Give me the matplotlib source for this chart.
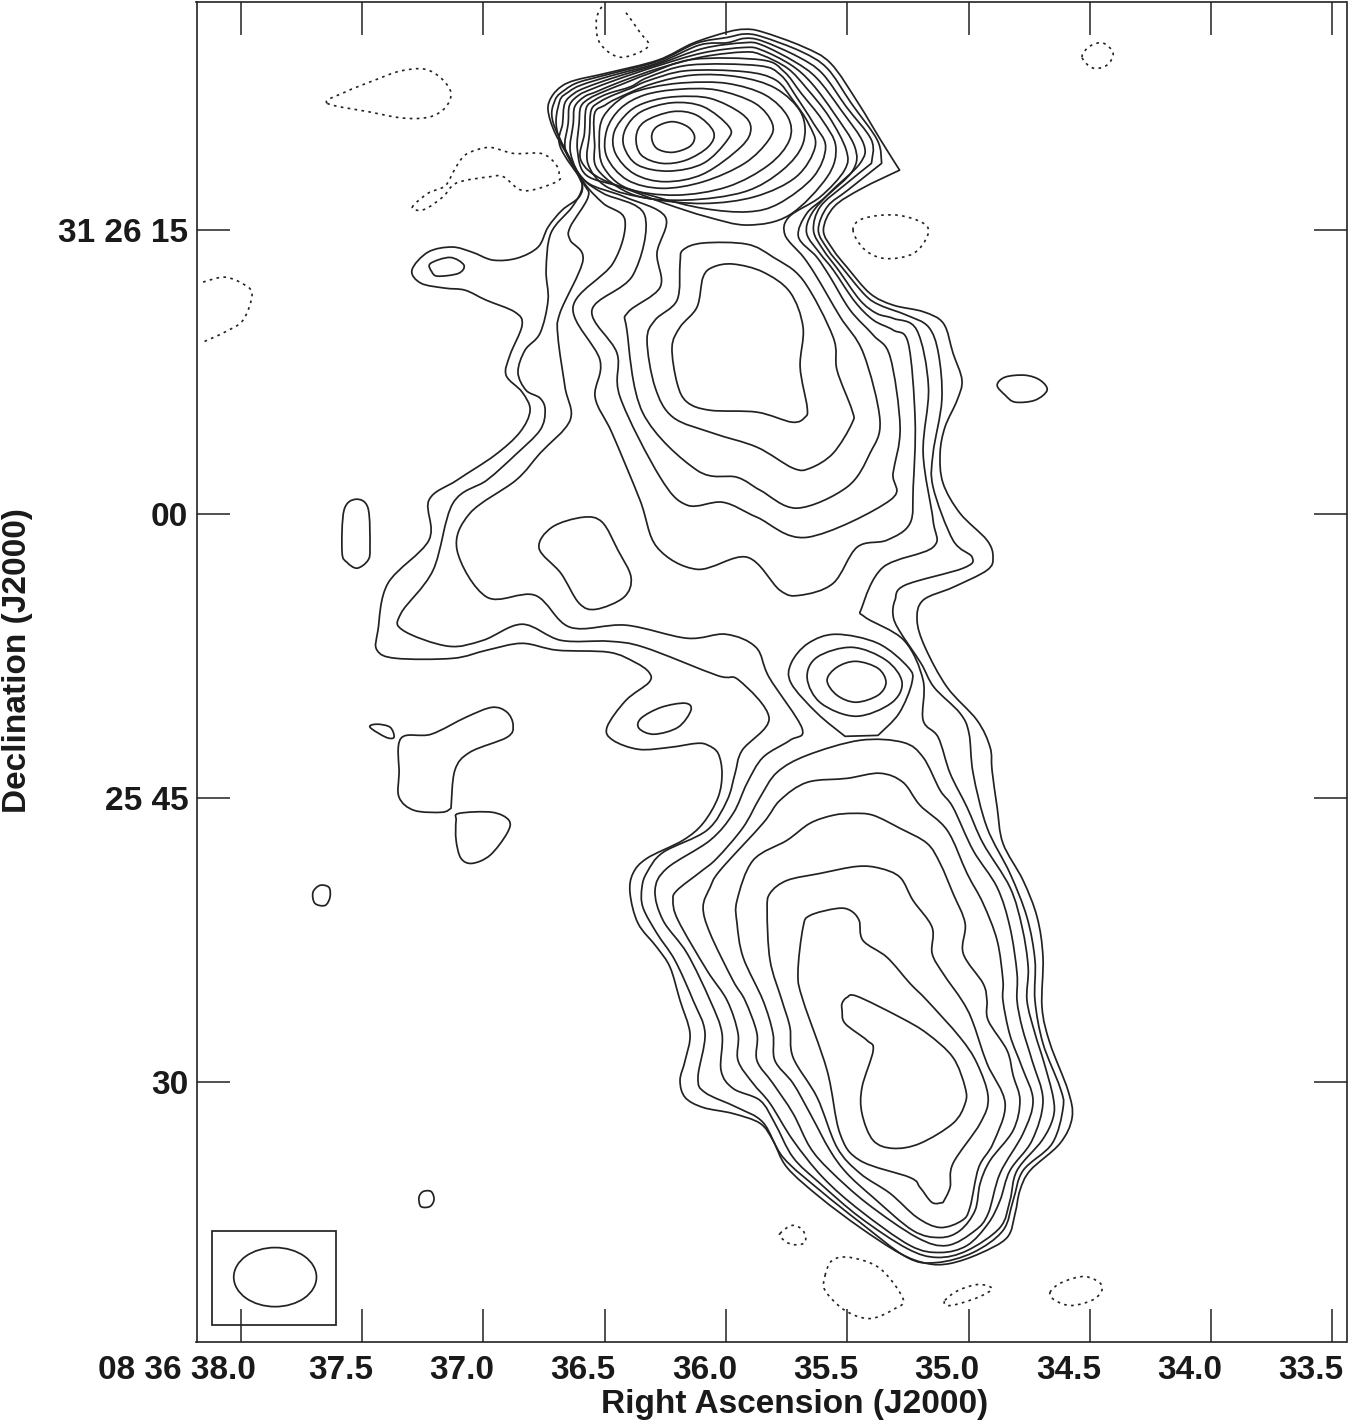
import numpy as np
import matplotlib
matplotlib.use('Agg')
import matplotlib.pyplot as plt
from matplotlib.patches import PathPatch, Ellipse, Rectangle
from matplotlib.path import Path
from matplotlib.transforms import ScaledTranslation

plt.rcParams['font.family'] = ['Liberation Sans', 'DejaVu Sans']

# contours are (RA seconds past 08 36, Dec arcsec from 31 26 00)
# a repeated point makes a sharp corner
lev1 = [(35.923, 25.61), (35.852, 25.48), (35.682, 24.69), (35.568, 23.81), (35.454, 21.70), (35.362, 19.76),
        (35.284, 18.17), (35.284, 18.17), (35.440, 17.20), (35.554, 16.24), (35.598, 15.00), (35.557, 13.95),
        (35.502, 13.06), (35.406, 11.66), (35.310, 11.04), (35.186, 10.69), (35.103, 10.07), (35.064, 8.51),
        (35.027, 7.08), (35.047, 6.02), (35.097, 4.60), (35.117, 3.22), (35.105, 1.64), (35.035, 0.05),
        (34.924, -1.37), (34.899, -2.27), (34.924, -2.96), (35.064, -3.86), (35.187, -4.54), (35.212, -5.60),
        (35.179, -7.03), (35.088, -9.14), (34.965, -10.88), (34.911, -12.31), (34.903, -13.52), (34.882, -15.48),
        (34.858, -17.38), (34.775, -19.34), (34.717, -21.29), (34.693, -23.40), (34.697, -26.05), (34.664, -27.95),
        (34.590, -30.43), (34.573, -31.86), (34.623, -33.23), (34.746, -34.66), (34.788, -35.71), (34.808, -36.93),
        (34.841, -38.20), (34.953, -39.04), (35.076, -39.57), (35.171, -39.57), (35.282, -39.04), (35.447, -37.67),
        (35.612, -36.08), (35.748, -34.50), (35.806, -33.07), (35.859, -32.17), (35.971, -31.65), (36.094, -31.33),
        (36.168, -30.80), (36.189, -29.90), (36.168, -28.85), (36.148, -27.42), (36.189, -25.68), (36.230, -23.93),
        (36.284, -22.88), (36.362, -21.61), (36.395, -20.02), (36.383, -18.97), (36.325, -18.17), (36.177, -17.22),
        (36.094, -16.32), (36.032, -14.95), (36.016, -13.68), (36.032, -12.63), (36.074, -12.20), (36.119, -12.10),
        (36.230, -12.31), (36.358, -12.42), (36.465, -11.94), (36.490, -11.25), (36.412, -9.83), (36.317, -8.88),
        (36.317, -8.35), (36.375, -7.82), (36.482, -7.29), (36.696, -7.18), (36.840, -6.82), (36.985, -7.18),
        (37.125, -7.61), (37.360, -7.61), (37.438, -7.18), (37.434, -6.13), (37.393, -3.65), (37.224, -1.37),
        (37.224, 0.74), (37.108, 1.80), (36.952, 3.12), (36.849, 4.33), (36.807, 5.49), (36.840, 6.45),
        (36.906, 7.34), (36.890, 8.40), (36.840, 9.98), (36.869, 10.67), (36.989, 11.31), (37.075, 11.83),
        (37.158, 11.94), (37.257, 12.20), (37.294, 12.89), (37.228, 13.84), (37.129, 14.11), (37.046, 13.84),
        (36.960, 13.42), (36.861, 13.52), (36.774, 14.11), (36.733, 15.16), (36.675, 16.06), (36.605, 16.75),
        (36.593, 17.49), (36.634, 18.54), (36.704, 20.13), (36.733, 21.34), (36.718, 22.05), (36.676, 22.61),
        (36.618, 22.93), (36.490, 23.30), (36.280, 23.98), (36.135, 24.88), (35.995, 25.46)]

lev2 = [(35.923, 25.36), (35.852, 25.22), (35.689, 24.43), (35.582, 23.54), (35.483, 21.70), (35.376, 19.76),
        (35.358, 18.53), (35.358, 18.53), (35.497, 17.12), (35.582, 16.24), (35.619, 15.00), (35.578, 13.95),
        (35.523, 13.06), (35.426, 11.57), (35.365, 11.04), (35.255, 10.51), (35.165, 9.89), (35.124, 8.49),
        (35.110, 6.02), (35.146, 3.22), (35.146, 1.43), (35.064, -1.37), (34.985, -2.27), (35.022, -2.85),
        (35.262, -3.75), (35.303, -4.54), (35.311, -5.34), (35.286, -6.13), (35.196, -7.87), (35.142, -9.14),
        (35.035, -10.51), (34.998, -11.57), (34.981, -13.68), (34.924, -16.54), (34.829, -18.97), (34.759, -21.29),
        (34.726, -23.56), (34.726, -25.68), (34.693, -27.95), (34.623, -30.27), (34.610, -31.33), (34.655, -33.23),
        (34.775, -34.66), (34.816, -36.24), (34.858, -37.83), (34.981, -38.99), (35.130, -39.52), (35.253, -39.25),
        (35.447, -37.40), (35.612, -35.71), (35.764, -33.97), (35.847, -32.12), (35.954, -31.33), (36.086, -30.54),
        (36.115, -29.74), (36.086, -27.42), (36.135, -25.68), (36.210, -23.56), (36.284, -22.14), (36.342, -20.76),
        (36.346, -19.71), (36.325, -18.91), (36.259, -17.86), (36.078, -16.69), (35.995, -15.11), (35.962, -13.68),
        (35.933, -12.47), (35.822, -10.78), (35.946, -8.77), (36.037, -8.51), (36.337, -7.03), (36.482, -6.71),
        (36.680, -6.66), (36.840, -5.81), (37.001, -6.66), (37.145, -6.97), (37.331, -6.13), (37.339, -5.23),
        (37.207, -2.96), (37.125, 0.58), (36.985, 1.80), (36.869, 3.12), (36.766, 4.44), (36.745, 5.49),
        (36.766, 6.13), (36.824, 6.55), (36.857, 7.50), (36.828, 8.66), (36.766, 9.56), (36.733, 11.31),
        (36.741, 12.89), (36.721, 14.85), (36.634, 16.22), (36.593, 17.22), (36.612, 17.98), (36.711, 20.64),
        (36.704, 21.87), (36.661, 22.43), (36.607, 22.81), (36.491, 23.21), (36.278, 23.93), (36.122, 24.87),
        (35.994, 25.18)]

lev3 = [(35.923, 25.13), (35.852, 25.00), (35.703, 24.16), (35.603, 23.28), (35.504, 21.52), (35.400, 19.76),
        (35.400, 18.53), (35.400, 18.53), (35.511, 17.38), (35.611, 16.24), (35.639, 15.00), (35.598, 13.95),
        (35.536, 12.89), (35.447, 11.30), (35.378, 10.60), (35.310, 10.34), (35.213, 9.72), (35.165, 6.72),
        (35.187, 3.22), (35.146, -0.32), (35.146, -1.74), (35.352, -2.80), (35.439, -4.91), (35.426, -5.44),
        (35.266, -6.66), (35.187, -8.77), (35.187, -10.88), (35.125, -11.78), (35.076, -13.68), (35.006, -15.48),
        (34.940, -17.38), (34.829, -19.71), (34.779, -21.82), (34.754, -23.93), (34.759, -25.68), (34.726, -27.42),
        (34.689, -28.95), (34.651, -30.80), (34.651, -31.86), (34.697, -33.07), (34.800, -34.66), (34.829, -36.24),
        (34.870, -37.67), (35.006, -38.89), (35.130, -39.25), (35.253, -38.78), (35.447, -37.14), (35.612, -35.34),
        (35.723, -33.97), (35.798, -32.17), (35.859, -30.96), (35.970, -30.33), (36.020, -29.37), (36.016, -27.42),
        (36.065, -25.68), (36.160, -23.19), (36.259, -21.45), (36.292, -19.86), (36.243, -18.70), (36.065, -17.22),
        (35.970, -15.80), (35.913, -14.21), (35.847, -12.84), (35.736, -11.94), (35.686, -11.31), (35.822, -8.61),
        (35.876, -7.03), (36.000, -6.34), (36.160, -6.55), (36.412, -5.86), (36.642, -5.97), (36.787, -4.28),
        (36.985, -4.38), (37.108, -1.90), (37.055, 0.05), (36.865, 1.80), (36.766, 3.22), (36.642, 4.97),
        (36.663, 6.71), (36.692, 9.35), (36.684, 10.62), (36.589, 13.42), (36.642, 14.48), (36.642, 15.16),
        (36.568, 16.75), (36.590, 17.56), (36.693, 20.11), (36.686, 21.78), (36.647, 22.31), (36.597, 22.66),
        (36.477, 23.14), (36.278, 23.84), (36.108, 24.78), (35.994, 24.90)]

lev4 = [(35.923, 24.90), (35.852, 24.78), (35.717, 23.90), (35.625, 23.02), (35.525, 21.34), (35.433, 19.58),
        (35.447, 18.53), (35.568, 17.03), (35.646, 15.88), (35.667, 14.83), (35.612, 13.77), (35.557, 12.89),
        (35.468, 11.22), (35.392, 10.25), (35.310, 9.72), (35.248, 9.01), (35.220, 4.97), (35.228, 1.43),
        (35.241, -0.48), (35.336, -1.37), (35.459, -1.74), (35.558, -3.65), (35.694, -4.28), (35.777, -4.02),
        (35.913, -2.27), (36.119, -2.91), (36.284, -1.74), (36.354, 0.74), (36.469, 4.28), (36.539, 6.18),
        (36.519, 8.14), (36.630, 10.94), (36.465, 13.26), (36.416, 15.53), (36.505, 16.41), (36.583, 17.47),
        (36.683, 19.41), (36.673, 20.64), (36.664, 21.70), (36.626, 22.22), (36.576, 22.54), (36.463, 23.05),
        (36.278, 23.77), (36.093, 24.60)]

lev5 = [(35.923, 24.65), (35.852, 24.51), (35.731, 23.72), (35.646, 22.75), (35.554, 21.17), (35.469, 19.41),
        (35.476, 18.17), (35.589, 16.76), (35.667, 15.88), (35.701, 14.65), (35.626, 13.59), (35.571, 12.54),
        (35.488, 10.78), (35.392, 9.45), (35.323, 8.31), (35.282, 4.60), (35.311, 2.17), (35.323, 0.74),
        (35.665, -1.22), (35.872, -0.16), (36.012, 0.63), (36.160, 0.48), (36.271, 1.95), (36.436, 6.18),
        (36.449, 8.51), (36.552, 10.78), (36.383, 12.63), (36.335, 15.80), (36.505, 16.94), (36.590, 17.73),
        (36.661, 19.23), (36.650, 20.64), (36.644, 21.61), (36.605, 22.14), (36.555, 22.44), (36.448, 22.96),
        (36.278, 23.69), (36.093, 24.37)]

lev6 = [(35.923, 24.41), (35.852, 24.25), (35.745, 23.54), (35.667, 22.49), (35.575, 20.99), (35.504, 19.23),
        (35.511, 18.17), (35.611, 16.76), (35.739, 15.71), (35.756, 14.74), (35.681, 13.59), (35.626, 12.54),
        (35.529, 10.42), (35.433, 8.49), (35.365, 4.96), (35.406, 3.22), (35.501, 1.43), (35.707, 0.32),
        (35.859, 1.27), (35.954, 1.95), (36.119, 2.32), (36.342, 5.34), (36.408, 9.72), (36.403, 10.67),
        (36.271, 11.99), (36.284, 13.79), (36.250, 15.71), (36.420, 16.77), (36.576, 17.56), (36.640, 19.05),
        (36.629, 20.64), (36.623, 21.52), (36.583, 22.05), (36.534, 22.31), (36.434, 22.84), (36.278, 23.54),
        (36.093, 24.16)]

mid7 = [(36.177, 13.95), (36.094, 14.32), (35.913, 14.26), (35.806, 13.58), (35.682, 12.36), (35.558, 9.35),
        (35.542, 7.61), (35.480, 5.49), (35.480, 4.81), (35.558, 3.22), (35.653, 2.43), (35.723, 2.43),
        (35.872, 3.54), (36.053, 4.28), (36.218, 5.12), (36.292, 6.71), (36.325, 9.19), (36.292, 10.25),
        (36.201, 11.31), (36.189, 13.26)]

mid8 = [(36.094, 12.52), (36.053, 13.05), (35.970, 13.21), (35.847, 12.79), (35.736, 11.73), (35.682, 9.88),
        (35.694, 7.77), (35.665, 5.65), (35.674, 5.12), (35.727, 4.86), (35.872, 5.39), (36.065, 5.49),
        (36.160, 5.92), (36.201, 6.92), (36.222, 8.82), (36.189, 9.88), (36.119, 10.94)]

core7 = [(36.321, 23.25), (36.136, 24.02), (35.852, 23.99), (35.760, 23.37), (35.689, 22.22), (35.603, 20.82),
         (35.547, 19.41), (35.582, 17.82), (35.738, 15.80), (35.909, 15.27), (36.079, 15.71), (36.250, 16.41),
         (36.434, 17.29), (36.576, 17.91), (36.612, 19.23), (36.605, 20.64), (36.598, 21.52), (36.562, 21.96),
         (36.505, 22.31), (36.420, 22.75)]
core8 = [(36.321, 23.07), (36.150, 23.72), (35.866, 23.69), (35.774, 23.19), (35.710, 22.05), (35.639, 20.64),
         (35.589, 19.41), (35.639, 17.82), (35.781, 16.41), (35.909, 15.97), (36.093, 16.15), (36.292, 16.77),
         (36.505, 17.65), (36.598, 18.70), (36.583, 20.11), (36.576, 21.43), (36.541, 21.87), (36.484, 22.22),
         (36.392, 22.58)]
core9 = [(36.164, 23.42), (35.923, 23.37), (35.795, 22.93), (35.724, 21.87), (35.660, 20.64), (35.632, 19.41),
         (35.710, 17.82), (35.880, 16.77), (36.093, 16.41), (36.321, 16.68), (36.491, 17.29), (36.569, 18.53),
         (36.562, 20.11), (36.555, 21.34), (36.519, 21.78), (36.463, 22.14), (36.392, 22.49), (36.321, 22.89)]
core10 = [(36.136, 23.19), (35.951, 23.10), (35.795, 22.49), (35.689, 21.17), (35.682, 19.58), (35.767, 18.17),
          (35.923, 17.03), (36.164, 16.59), (36.377, 16.85), (36.527, 18.17), (36.541, 19.58), (36.541, 21.17),
          (36.498, 21.60), (36.448, 21.96), (36.306, 22.72)]
core11 = [(36.164, 22.79), (35.994, 22.75), (35.838, 22.14), (35.745, 20.99), (35.738, 19.76), (35.824, 18.44),
          (35.994, 17.29), (36.207, 16.85), (36.406, 17.21), (36.505, 18.35), (36.522, 19.76), (36.505, 20.99),
          (36.420, 22.05), (36.306, 22.54)]
core12 = [(36.193, 22.44), (36.037, 22.40), (35.880, 21.70), (35.809, 20.64), (35.824, 19.76), (35.923, 18.53),
          (36.093, 17.56), (36.264, 17.21), (36.406, 17.65), (36.491, 18.88), (36.491, 20.29), (36.434, 21.43),
          (36.335, 22.14)]
core13 = [(36.207, 22.05), (36.065, 21.96), (35.937, 21.17), (35.897, 20.38), (35.937, 19.41), (36.093, 17.97),
          (36.250, 17.56), (36.377, 17.97), (36.455, 19.05), (36.460, 20.20), (36.399, 21.26), (36.321, 21.78)]
core14 = [(36.221, 21.73), (36.093, 21.52), (35.987, 20.46), (35.994, 19.76), (36.093, 18.53), (36.235, 18.12),
          (36.363, 18.44), (36.420, 19.41), (36.413, 20.37), (36.349, 21.26)]
core15 = [(36.221, 21.26), (36.122, 21.08), (36.051, 20.20), (36.072, 19.41), (36.164, 18.70), (36.264, 18.53),
          (36.349, 18.97), (36.370, 19.93), (36.335, 20.73)]
core16 = [(36.221, 20.73), (36.157, 20.46), (36.129, 19.93), (36.150, 19.41), (36.221, 19.11), (36.285, 19.32),
          (36.306, 19.93), (36.285, 20.46)]

lobe4 = [(35.447, -11.94), (35.270, -12.05), (35.187, -12.84), (35.117, -14.58), (35.064, -15.48), (34.981, -17.75),
         (34.882, -19.71), (34.829, -21.82), (34.800, -24.25), (34.800, -25.68), (34.779, -27.10), (34.738, -28.85),
         (34.693, -30.96), (34.738, -33.07), (34.829, -34.66), (34.870, -36.24), (34.919, -37.46), (35.006, -38.62),
         (35.117, -38.99), (35.241, -38.62), (35.447, -36.77), (35.600, -35.03), (35.723, -33.07), (35.818, -31.12),
         (35.888, -30.06), (35.950, -28.85), (35.950, -27.42), (35.995, -25.68), (36.078, -24.09), (36.197, -21.45),
         (36.218, -20.39), (36.201, -19.86), (36.107, -18.91), (36.037, -18.17), (35.929, -16.54), (35.859, -14.95),
         (35.789, -13.63), (35.665, -12.73)]
lobe5 = [(35.365, -13.68), (35.270, -14.16), (35.200, -15.37), (35.088, -16.69), (35.006, -18.97), (34.940, -20.55),
         (34.882, -22.51), (34.858, -24.62), (34.858, -25.68), (34.829, -27.52), (34.779, -29.22), (34.734, -30.96),
         (34.775, -32.70), (34.870, -34.81), (34.919, -36.93), (34.973, -37.83), (35.088, -38.62), (35.212, -38.20),
         (35.418, -36.40), (35.571, -34.66), (35.653, -33.44), (35.723, -31.65), (35.806, -30.06), (35.872, -28.85),
         (35.872, -27.42), (35.921, -25.68), (35.971, -24.62), (36.065, -22.14), (36.094, -20.76), (36.065, -19.71),
         (36.024, -18.81), (35.847, -16.32), (35.777, -15.11), (35.665, -14.16), (35.501, -13.95)]
lobe6 = [(35.476, -15.80), (35.393, -15.90), (35.282, -16.59), (35.171, -17.38), (35.117, -18.44), (35.064, -20.02),
         (35.014, -21.61), (35.022, -23.19), (34.940, -24.78), (34.924, -25.68), (34.919, -26.73), (34.841, -28.32),
         (34.816, -29.64), (34.788, -30.96), (34.816, -32.54), (34.911, -34.13), (34.952, -35.34), (34.973, -36.77),
         (35.035, -37.83), (35.117, -38.20), (35.229, -37.83), (35.393, -36.08), (35.501, -34.81), (35.571, -33.60),
         (35.653, -31.65), (35.723, -30.06), (35.798, -28.85), (35.806, -27.42), (35.847, -25.68), (35.929, -23.40),
         (35.954, -21.61), (35.954, -20.39), (35.888, -18.28), (35.748, -17.22), (35.653, -16.32), (35.558, -15.90)]
lobe7 = [(35.459, -18.60), (35.365, -18.70), (35.282, -19.18), (35.229, -20.39), (35.150, -21.82), (35.150, -23.19),
         (35.105, -24.25), (35.027, -25.68), (34.985, -26.73), (34.924, -29.00), (34.849, -31.12), (34.899, -33.23),
         (34.958, -34.50), (34.994, -36.61), (35.027, -37.30), (35.117, -37.67), (35.212, -37.14), (35.323, -35.87),
         (35.447, -34.81), (35.542, -33.44), (35.624, -30.80), (35.723, -28.69), (35.736, -27.10), (35.769, -25.68),
         (35.818, -23.56), (35.830, -20.92), (35.818, -20.02), (35.748, -19.34), (35.612, -18.97)]
lobe8 = [(35.542, -20.82), (35.488, -20.92), (35.451, -21.45), (35.435, -22.51), (35.336, -23.40), (35.241, -24.78),
         (35.171, -25.68), (35.035, -27.63), (34.965, -29.00), (34.919, -30.80), (34.952, -32.17), (35.064, -34.29),
         (35.076, -35.55), (35.105, -36.35), (35.105, -36.35), (35.150, -36.35), (35.200, -35.55), (35.241, -35.03),
         (35.447, -34.13), (35.530, -32.70), (35.583, -29.37), (35.682, -25.68), (35.703, -24.25), (35.682, -21.82),
         (35.653, -21.19)]
lobe9 = [(35.521, -25.83), (35.501, -25.52), (35.459, -25.46), (35.282, -26.57), (35.171, -27.42), (35.064, -28.69),
         (35.014, -30.27), (35.014, -31.12), (35.064, -32.17), (35.200, -33.23), (35.311, -33.49), (35.393, -33.07),
         (35.439, -31.65), (35.439, -30.27), (35.393, -28.32), (35.418, -27.79), (35.509, -26.89), (35.521, -26.20)]

knot1 = [(35.546, -6.34), (35.373, -6.82), (35.249, -8.08), (35.233, -8.88), (35.286, -10.51), (35.373, -11.68),
         (35.373, -11.68), (35.509, -11.73), (35.509, -11.73), (35.624, -10.51), (35.731, -8.93), (35.731, -7.87),
         (35.661, -6.82)]
knot2 = [(35.480, -7.03), (35.340, -7.71), (35.274, -8.88), (35.319, -9.98), (35.464, -10.67), (35.608, -9.98),
         (35.665, -8.66), (35.624, -7.55)]
knot3 = [(35.464, -7.77), (35.373, -8.14), (35.340, -8.88), (35.373, -9.56), (35.464, -9.93), (35.542, -9.56),
         (35.583, -8.77), (35.542, -8.08)]

blob_mid = [(36.589, -0.16), (36.510, -0.42), (36.445, -1.90), (36.391, -3.33), (36.420, -4.38), (36.535, -5.02),
            (36.605, -4.70), (36.680, -3.12), (36.770, -1.80), (36.717, -0.69)]
blob_north = [(37.137, 13.56), (37.080, 13.16), (37.102, 12.72), (37.187, 12.57), (37.212, 12.80), (37.218, 13.24)]
blob_tail = [(36.168, -9.98), (36.144, -10.35), (36.197, -11.25), (36.296, -11.62), (36.358, -11.31), (36.350, -10.78),
             (36.267, -10.20)]
blob_west = [(37.339, -11.83), (37.215, -11.62), (37.071, -10.72), (36.964, -10.20), (36.902, -10.46), (36.877, -11.15),
             (36.902, -11.78), (37.055, -12.57), (37.117, -13.52), (37.133, -15.53), (37.133, -15.53), (37.170, -15.74),
             (37.285, -15.64), (37.347, -14.95), (37.347, -13.68)]
blob_scrap = [(37.467, -11.25), (37.438, -11.09), (37.384, -11.25), (37.368, -11.78), (37.401, -11.78)]
blob_south = [(37.100, -15.80), (36.964, -15.74), (36.894, -16.17), (36.902, -16.85), (36.972, -18.01), (37.046, -18.44),
              (37.092, -18.17), (37.112, -17.22), (37.112, -16.17)]
blob_col = [(37.525, 0.79), (37.475, 0.32), (37.467, -1.74), (37.475, -2.43), (37.520, -2.85), (37.562, -2.54),
            (37.582, -2.01), (37.574, 0.21)]
blob_east = [(34.882, 6.81), (34.849, 7.24), (34.767, 7.34), (34.705, 7.08), (34.676, 6.55), (34.726, 6.02),
             (34.808, 5.92), (34.849, 6.29)]
blob_a = [(37.702, -19.97), (37.673, -19.60), (37.636, -19.71), (37.632, -20.23), (37.652, -20.66), (37.694, -20.55)]
blob_b = [(37.265, -36.08), (37.248, -35.77), (37.215, -35.77), (37.203, -36.19), (37.220, -36.56), (37.257, -36.56)]

solid_closed = [lev1, lev2, lev3, lev4, lev5, lev6, mid7, mid8, core7, core8, core9, core10, core11, core12, core13,
                core14, core15, core16, lobe4, lobe5, lobe6, lobe7, lobe8, lobe9, knot1, knot2, knot3, blob_mid,
                blob_north, blob_tail, blob_west, blob_scrap, blob_south, blob_col, blob_east, blob_a, blob_b]

# negative levels
neg_top = [(36.512, 26.80), (36.534, 26.10), (36.519, 24.87), (36.434, 24.13), (36.321, 24.69), (36.356, 25.48),
           (36.420, 26.63)]
neg_edge = [(38.155, 12.26), (38.065, 12.52), (37.982, 12.10), (37.953, 11.57), (37.990, 10.25), (38.065, 9.62),
            (38.155, 9.09)]
neg_a = [(37.644, 21.71), (37.570, 22.29), (37.446, 22.93), (37.343, 23.40), (37.244, 23.51), (37.174, 23.03),
         (37.133, 22.24), (37.158, 21.45), (37.224, 20.97), (37.331, 20.92), (37.467, 21.24)]
neg_b = [(37.293, 16.20), (37.229, 16.94), (37.158, 17.33), (37.123, 18.09), (37.094, 18.70), (37.059, 19.09),
         (36.974, 19.37), (36.874, 19.05), (36.761, 19.05), (36.704, 18.53), (36.687, 17.97), (36.697, 17.56),
         (36.832, 17.08), (36.917, 17.82), (36.974, 17.82), (37.109, 17.50), (37.166, 16.76), (37.244, 16.09)]
neg_c = [(35.476, 15.00), (35.433, 15.62), (35.298, 15.80), (35.185, 15.36), (35.168, 14.74), (35.227, 13.77),
         (35.341, 13.50), (35.426, 13.95)]
neg_d = [(34.532, 24.14), (34.499, 24.72), (34.445, 24.88), (34.404, 24.35), (34.429, 23.72), (34.487, 23.56)]
neg_e = [(35.777, -37.99), (35.727, -37.56), (35.682, -37.83), (35.674, -38.46), (35.727, -38.57), (35.769, -38.25)]
neg_f = [(35.591, -40.20), (35.562, -39.41), (35.488, -39.25), (35.365, -39.83), (35.270, -41.42), (35.303, -41.95),
         (35.406, -42.48), (35.509, -42.05), (35.591, -41.00)]
neg_g = [(35.097, -41.52), (35.043, -41.00), (34.961, -40.68), (34.903, -40.89), (34.952, -41.31), (35.035, -41.68),
         (35.088, -41.79)]
neg_h = [(34.664, -41.10), (34.615, -40.57), (34.520, -40.26), (34.450, -40.73), (34.478, -41.42), (34.573, -41.79),
         (34.643, -41.52)]

neg_closed = [neg_a, neg_b, neg_c, neg_d, neg_e, neg_f, neg_g, neg_h]
neg_open = [neg_top, neg_edge]

# tick values and labels
ra_ticks = [38.0, 37.5, 37.0, 36.5, 36.0, 35.5, 35.0, 34.5, 34.0, 33.5]
ra_labels = ['08 36 38.0', '37.5', '37.0', '36.5', '36.0', '35.5', '35.0', '34.5', '34.0', '33.5']
dec_ticks = [15, 0, -15, -30]
dec_labels = ['31 26 15', '00', '25 45', '30']

# restoring beam
beam_box = (38.117, 37.607, -42.84, -37.83)
beam_centre = (37.858, -40.29)
beam_width = 0.341
beam_height = 3.12

INK = '#222222'
LW = 1.25


def curve(points, closed=True):
    # bezier path running through the traced points
    p = np.array(points, dtype=float)
    if closed:
        p = np.vstack([p, p[:1]])
        before = np.vstack([p[-2:-1], p[:-1]])
        after = np.vstack([p[1:], p[1:2]])
    else:
        before = np.vstack([p[:1], p[:-1]])
        after = np.vstack([p[1:], p[-1:]])
    verts = [p[0]]
    codes = [Path.MOVETO]
    for i in range(len(p) - 1):
        if np.all(p[i] == p[i + 1]):
            continue
        verts.append(p[i] + (after[i] - before[i]) / 6)
        verts.append(p[i + 1] - (after[i + 1] - before[i + 1]) / 6)
        verts.append(p[i + 1])
        codes += [Path.CURVE4] * 3
    return Path(verts, codes)


fig = plt.figure(figsize=(13.5, 14.23), dpi=100)
ax = fig.add_axes([196.5 / 1350, (1423 - 1341.5) / 1423, 1150 / 1350, 1339.5 / 1423])

for c in solid_closed:
    ax.add_patch(PathPatch(curve(c), fill=False, ec=INK, lw=LW, joinstyle='round'))
for c in neg_closed:
    ax.add_patch(PathPatch(curve(c), fill=False, ec=INK, lw=1.2, ls=(0, (1.6, 2.6)), joinstyle='round'))
for c in neg_open:
    ax.add_patch(PathPatch(curve(c, closed=False), fill=False, ec=INK, lw=1.2, ls=(0, (1.6, 2.6)), joinstyle='round'))

ax.add_patch(Rectangle((beam_box[0], beam_box[2]), beam_box[1] - beam_box[0], beam_box[3] - beam_box[2],
                       fill=False, ec=INK, lw=LW))
ax.add_patch(Ellipse(beam_centre, beam_width, beam_height, fill=False, ec=INK, lw=LW))

ax.set_xlim(38.182, 33.442)
ax.set_ylim(-43.69, 27.05)

ax.set_xticks(ra_ticks)
ax.set_xticklabels(ra_labels)
ax.set_yticks(dec_ticks)
ax.set_yticklabels(dec_labels)
ax.tick_params(direction='in', length=23.5, width=1.1, color=INK, top=True, right=True,
               labelsize=24, labelcolor='#1a1a1a')
ax.tick_params(axis='x', pad=10)
ax.tick_params(axis='y', pad=6)
shift = ScaledTranslation(11 / 100, 0, fig.dpi_scale_trans)
first_shift = ScaledTranslation(15 / 100, 0, fig.dpi_scale_trans)
for i, lab in enumerate(ax.get_xticklabels()):
    lab.set_fontweight('bold')
    lab.set_ha('right')
    lab.set_transform(lab.get_transform() + (first_shift if i == 0 else shift))
for lab in ax.get_yticklabels():
    lab.set_fontweight('bold')
for s in ax.spines.values():
    s.set_linewidth(1.2)
    s.set_color(INK)

fig.text(795 / 1350, 1 - 1404 / 1423, 'Right Ascension (J2000)', ha='center', va='center',
         fontsize=24, fontweight='bold', color='#1a1a1a')
fig.text(18 / 1350, 1 - 661 / 1423, 'Declination (J2000)', ha='center', va='center', rotation=90,
         fontsize=24, fontweight='bold', color='#1a1a1a')

fig.savefig('out.png', dpi=100)
